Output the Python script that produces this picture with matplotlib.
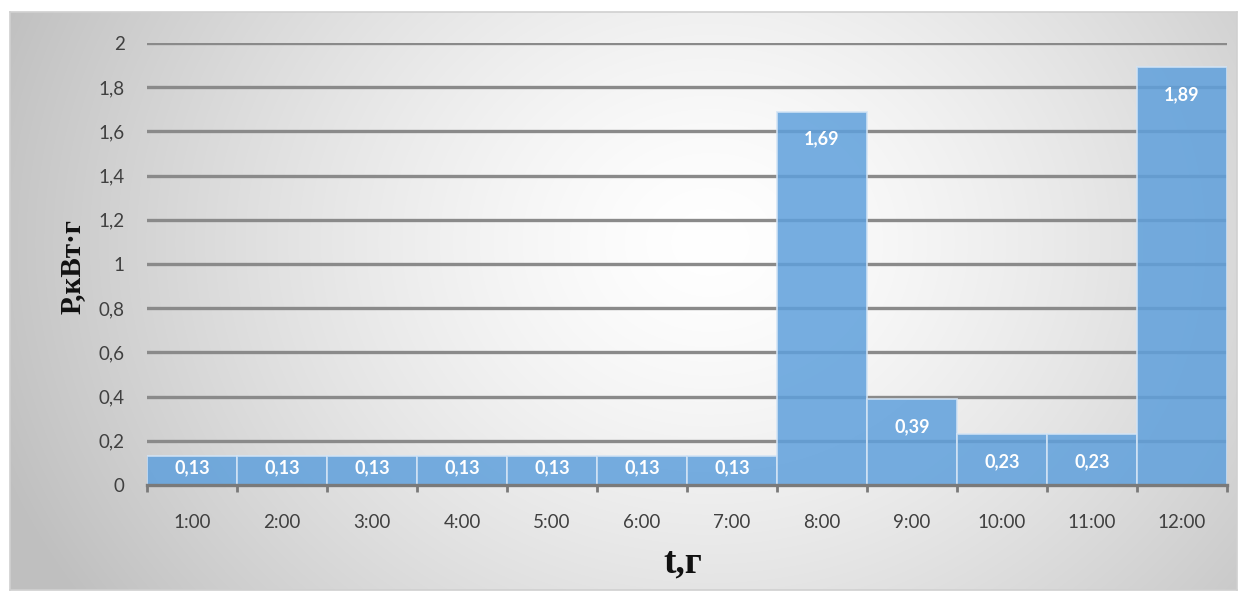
import numpy as np
import matplotlib
matplotlib.use("Agg")
import matplotlib.pyplot as plt

hours = ["1:00", "2:00", "3:00", "4:00", "5:00", "6:00", "7:00",
         "8:00", "9:00", "10:00", "11:00", "12:00"]
power = [0.13, 0.13, 0.13, 0.13, 0.13, 0.13, 0.13, 1.69, 0.39, 0.23, 0.23, 1.89]
yticks = [0, 0.2, 0.4, 0.6, 0.8, 1.0, 1.2, 1.4, 1.6, 1.8, 2.0]
ytick_labels = ["0", "0,2", "0,4", "0,6", "0,8", "1", "1,2", "1,4", "1,6", "1,8", "2"]

W, H = 1247, 599
fig = plt.figure(figsize=(W / 100, H / 100), dpi=100)
fig.patch.set_facecolor("white")

# background radial gradient (chart area)
bg = fig.add_axes([10 / W, 1 - 590 / H, 1227 / W, 578 / H])
yy, xx = np.mgrid[0:578, 0:1227]
cx, cy = 700, 230
r = np.sqrt((xx - cx) ** 2 + ((yy - cy) / 0.85) ** 2)
t = np.clip(r / 760, 0, 1) ** 1.4
lo, hi = 1.0, 0.75
val = lo + (hi - lo) * t
img = np.dstack([val, val, val])
bg.imshow(img, aspect="auto", extent=[0, 1, 0, 1], origin="upper")
bg.set_xlim(0, 1)
bg.set_ylim(0, 1)
bg.set_xticks([])
bg.set_yticks([])
for s in bg.spines.values():
    s.set_color("#d0d0d0")
    s.set_linewidth(1.2)

ax = fig.add_axes([147 / W, 1 - 485 / H, (1227 - 147) / W, (485 - 43) / H])
ax.patch.set_alpha(0)
x = np.arange(len(hours))
ax.set_xlim(-0.5, len(hours) - 0.5)
ax.set_ylim(0, 2.0)

for yv in yticks[1:]:
    ax.axhline(yv, color="#8a8a8a", lw=2.4, zorder=1)

ax.bar(x, power, width=1.0, color="#5fa0dc", alpha=0.85,
       edgecolor="#d3e4f5", linewidth=1.3, zorder=2)

for xi, v in zip(x, power):
    yl = v - 0.125 if v > 0.2 else v * 0.6
    ax.text(xi, yl, f"{v:.2f}".replace(".", ","), ha="center", va="center",
            color="white", fontsize=13, fontweight="bold", family="Lato", zorder=4)

ax.set_yticks(yticks)
ax.set_yticklabels(ytick_labels, family="Lato", fontsize=13.5, color="#404040")
ax.tick_params(axis="y", length=0, pad=16)
ax.set_xticks(x)
ax.set_xticklabels(hours, family="Lato", fontsize=13.5, color="#404040")
ax.set_xticks(np.arange(-0.5, len(hours)), minor=True)
ax.tick_params(axis="x", which="major", length=0, pad=21)
ax.tick_params(axis="x", which="minor", length=5, width=2, color="#7a7a7a")

for k in ["top", "right", "left"]:
    ax.spines[k].set_visible(False)
ax.spines["bottom"].set_color("#7a7a7a")
ax.spines["bottom"].set_linewidth(2.4)
ax.spines["bottom"].set_zorder(5)

fig.text(683 / W, 1 - 563 / H, "t,г", ha="center", va="center",
         family="Liberation Serif", fontweight="bold", fontsize=27, color="#111111")
fig.text(72 / W, 1 - 266 / H, "Р,кВт·г", ha="center", va="center", rotation=90,
         family="Liberation Serif", fontweight="bold", fontsize=21, color="#111111")

fig.savefig("out.png", dpi=100)
